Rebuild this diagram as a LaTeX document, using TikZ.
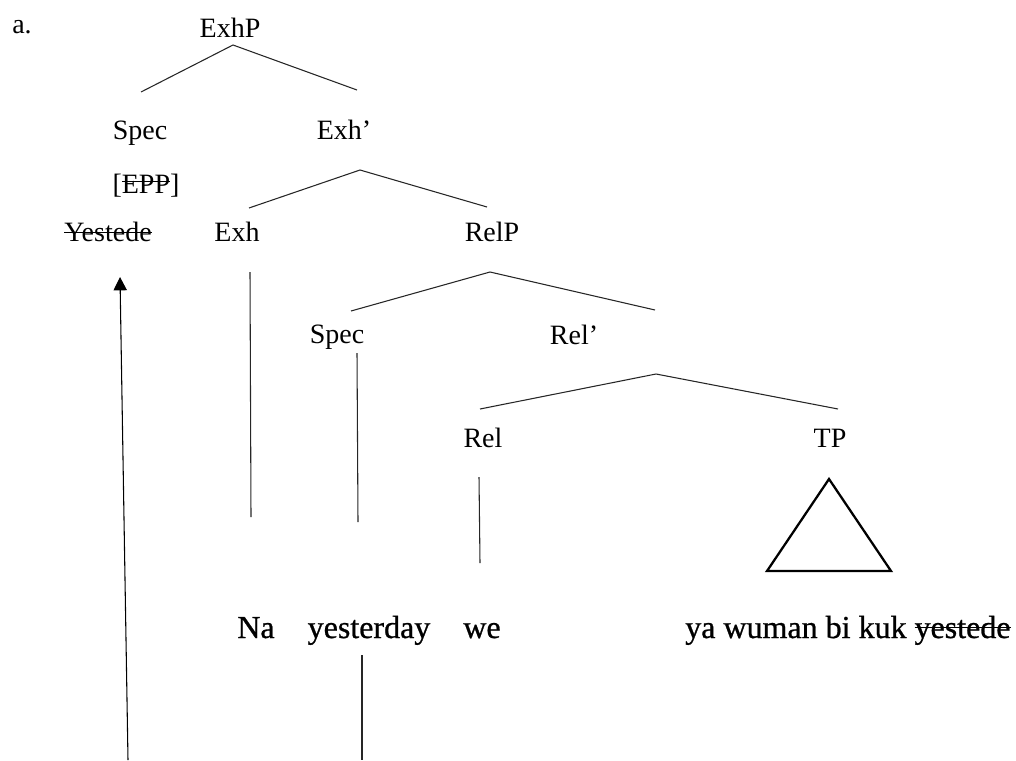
\documentclass[tikz,border=0pt]{standalone}
\usepackage{fontspec}
\setmainfont{Liberation Serif}
\newfontfamily\glossfont[RawFeature={embolden=0.8}]{Liberation Serif}
\usetikzlibrary{positioning,calc,arrows.meta}
% crossed-out material: \struck[height of the bar]{text}
\newcommand\struck[2][.29em]{\setbox0\hbox{#2}\rlap{\rule[#1]{\wd0}{.045em}}\box0}
\tikzset{
  tree label/.style={font=\fontsize{21}{24}\selectfont,inner sep=0pt,anchor=base},
  gloss label/.style={font=\glossfont\fontsize{24}{28}\selectfont,inner sep=0pt,anchor=base},
  tree branch/.style={line width=.8pt,draw=black!85},
  tree roof/.style={line width=1.7pt,draw=black,line join=miter},
  move arrow/.style={line width=.8pt,draw=black,-{Triangle[length=10pt,width=10pt]}}
}
\begin{document}
\begin{tikzpicture}[x=.75pt,y=-.75pt]
  \useasboundingbox (0,0) rectangle (1016,760);
  \node[tree label,anchor=base west] (ex) at (12,33) {a.};
  \node[tree label] (exhp) at (230,37) {ExhP};
  \node[tree label] (spec) at (140,139) {Spec};
  \node[tree label] (exhbar) at (344,139) {Exh’};
  \node[tree label] (epp) at (146,193) {[\struck[.39em]{EPP}]};
  \node[tree label] (yestede) at (108,241) {\struck{Yestede}};
  \node[tree label] (exh) at (237,241) {Exh};
  \node[tree label] (relp) at (492,241) {RelP};
  \node[tree label] (relspec) at (337,343) {Spec};
  \node[tree label] (relbar) at (574,344) {Rel’};
  \node[tree label] (rel) at (483,447) {Rel};
  \node[tree label] (tp) at (830,447) {TP};
  % terminal string
  \node[gloss label] (na) at (256,638) {Na};
  \node[gloss label] (yesterday) at (369,638) {yesterday};
  \node[gloss label] (we) at (482,638) {we};
  \node[gloss label,anchor=base west] (clause) at (685,638) {ya wuman bi kuk \struck[.3em]{yestede}};
  \coordinate (trace foot) at (128,760);
  \coordinate (copy foot) at (362,760);
  % branches
  \draw[tree branch] ($(spec.base)+(1,-47)$) -- ($(exhp.base)+(3,8)$) -- ($(exhbar.base)+(13,-49)$);
  \draw[tree branch] ($(exh.base)+(12,-33)$) -- ($(exhbar.base)+(16,31)$) -- ($(relp.base)+(-5,-34)$);
  \draw[tree branch] ($(relspec.base)+(14,-32)$) -- ($(relp.base)+(-2,31)$) -- ($(relbar.base)+(81,-34)$);
  \draw[tree branch] ($(rel.base)+(-3,-38)$) -- ($(relbar.base)+(82,30)$) -- ($(tp.base)+(8,-38)$);
  \draw[tree branch] ($(exh.base)+(13,31)$) -- ($(na.base)+(-5,-121)$);
  \draw[tree branch] ($(relspec.base)+(20,10)$) -- ($(yesterday.base)+(-11,-116)$);
  \draw[tree branch] ($(rel.base)+(-4,30)$) -- ($(we.base)+(-2,-75)$);
  \draw[tree roof] ($(tp.base)+(-1,32)$) -- ($(tp.base)+(-63,124)$) -- ($(tp.base)+(61,124)$) -- cycle;
  % movement
  \draw[tree branch] ($(yesterday.base)+(-7,17)$) -- (copy foot);
  \draw[move arrow] (trace foot) -- ($(yestede.base)+(12,36)$);
\end{tikzpicture}
\end{document}
